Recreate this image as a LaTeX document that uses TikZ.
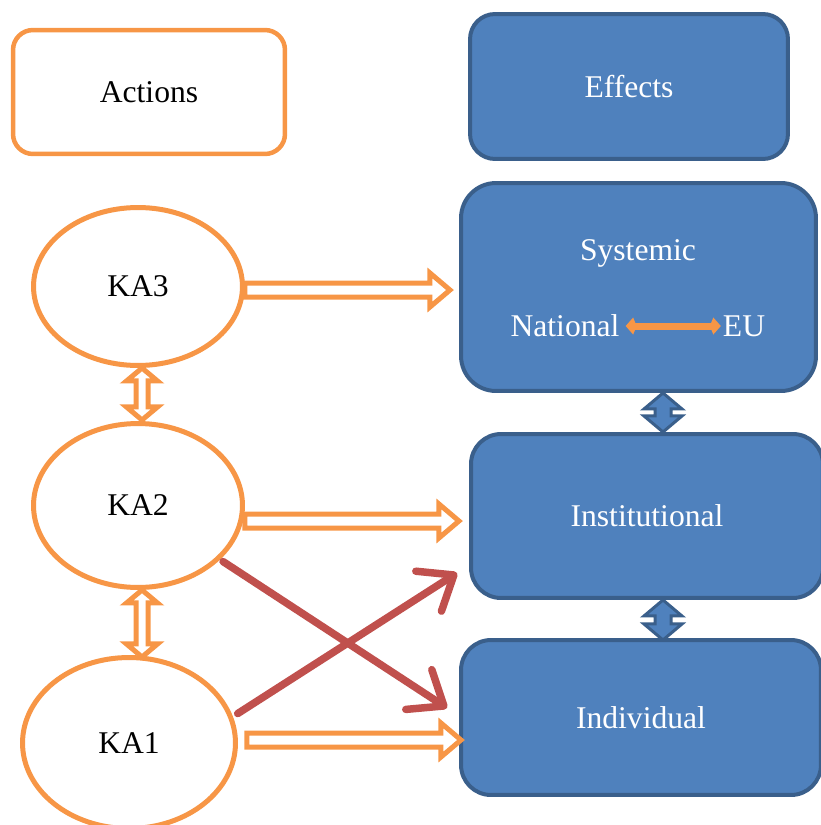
\documentclass[tikz,border=0pt]{standalone}
\usepackage{fontspec}
\setmainfont{Liberation Serif}
\usetikzlibrary{arrows.meta,shapes.geometric}

\definecolor{kaorange}{HTML}{F79646}
\definecolor{effblue}{HTML}{4F81BD}
\definecolor{effline}{HTML}{3A5F8B}
\definecolor{crossred}{HTML}{C0504D}

\tikzset{
  txt/.style={font=\fontsize{18}{22}\selectfont},
  action/.style={txt, ellipse, draw=kaorange, line width=0.1cm, fill=white},
  effect/.style={txt, draw=effline, line width=0.08cm, fill=effblue, text=white},
  hollow/.style={draw=kaorange, line width=0.1cm, fill=white, line join=miter},
  bluelink/.style={draw=effline, line width=0.06cm, fill=effblue, line join=miter},
  cross/.style={draw=crossred, line width=0.15cm, line cap=round,
    -{Straight Barb[round,length=0.6cm,width=0.95cm]}}
}

% hollow arrow to the right: start, length
\newcommand{\harrow}[2]{%
  \draw[hollow] (#1) ++(0,7) -- ++({#2-20},0) -- ++(0,10) -- ++(20,-17)
    -- ++(-20,-17) -- ++(0,10) -- ++({20-#2},0) -- cycle;}
% hollow double arrow downwards: top tip, length
\newcommand{\varrow}[2]{%
  \draw[hollow] (#1) -- ++(15.5,13) -- ++(-9.5,0) -- ++(0,{#2-26}) -- ++(9.5,0)
    -- ++(-15.5,13) -- ++(-15.5,-13) -- ++(9.5,0) -- ++(0,{26-#2}) -- ++(-9.5,0) -- cycle;}
% filled double arrow between effect boxes: top tip, length
\newcommand{\blink}[2]{%
  \draw[bluelink] (#1) -- ++(19,16) -- ++(-11,0) -- ++(0,{#2-32}) -- ++(11,0)
    -- ++(-19,16) -- ++(-19,-16) -- ++(11,0) -- ++(0,{32-#2}) -- ++(-11,0) -- cycle;}

\begin{document}
\begin{tikzpicture}[x=0.02cm, y=-0.02cm]
    \useasboundingbox (0,0) rectangle (821,825);

    % Headers
    \node[txt, draw=kaorange, line width=0.09cm, rounded corners=0.4cm,
      minimum width=5.44cm, minimum height=2.48cm] (act) at (149,92) {Actions};
    \node[effect, rounded corners=0.5cm, minimum width=6.36cm, minimum height=2.9cm]
      (eff) at (629,86.5) {Effects};

    % Effect levels
    \node[effect, rounded corners=0.7cm, minimum width=7.1cm, minimum height=4.16cm]
      (sys) at (638.5,287) {};
    \node[txt, text=white] (systxt) at (638,253) {Systemic};
    \node[txt, text=white] (nat) at (565,326) {National};
    \node[txt, text=white, inner xsep=1pt] (eu) at (744,326) {EU};
    \node[effect, rounded corners=0.6cm, minimum width=7.04cm, minimum height=3.28cm]
      (inst) at (647,516) {Institutional};
    \node[effect, rounded corners=0.6cm, minimum width=7.2cm, minimum height=3.1cm]
      (ind) at (641,717.5) {Individual};

    % Key actions
    \node[action, minimum width=4.18cm, minimum height=3.16cm] (ka3) at (138,286.5) {KA3};
    \node[action, minimum width=4.18cm, minimum height=3.28cm] (ka2) at (138,505.5) {KA2};
    \node[action, minimum width=4.26cm, minimum height=3.42cm] (ka1) at (129,743) {KA1};

    % National <-> EU
    \draw[draw=kaorange, line width=0.14cm,
      {Kite[length=0.22cm,width=0.34cm,inset=0.07cm]}-{Kite[length=0.22cm,width=0.34cm,inset=0.07cm]}]
      (nat.east) -- (eu.west);

    % Actions to effects
    \harrow{[yshift=-0.07cm]ka3.east}{205}
    \harrow{[yshift=-0.31cm]ka2.east}{214}
    \harrow{[xshift=0.18cm, yshift=0.06cm]ka1.east}{214}

    % Between actions
    \varrow{[xshift=0.08cm]ka3.south}{52}
    \varrow{[xshift=0.08cm]ka2.south}{67}

    % Between effects
    \blink{[xshift=0.49cm]sys.south}{39}
    \blink{[xshift=0.32cm]inst.south}{40}

    % Crossing arrows
    \draw[cross] ([xshift=0.12cm]ka1.16) -- ([xshift=-0.24cm, yshift=0.54cm]inst.south west);
    \draw[cross] ([xshift=0.1cm]ka2.-35) -- ([xshift=-0.24cm, yshift=0.19cm]ind.west);

\end{tikzpicture}
\end{document}
